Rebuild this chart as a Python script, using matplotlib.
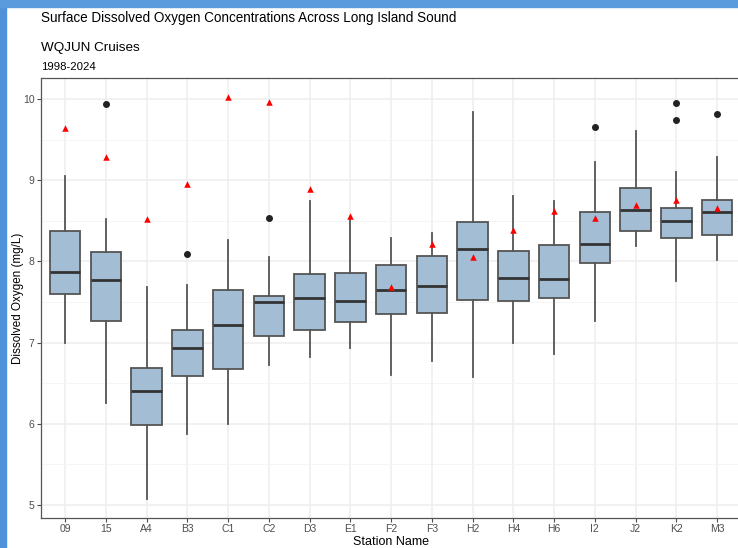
import matplotlib
matplotlib.use('Agg')
from matplotlib import pyplot as plt
from matplotlib.patches import Rectangle
import numpy as np

plt.rcParams['font.family'] = ['Liberation Sans', 'DejaVu Sans']

# station names along the x axis
stations = ['09', '15', 'A4', 'B3', 'C1', 'C2', 'D3', 'E1', 'F2', 'F3',
            'H2', 'H4', 'H6', 'I2', 'J2', 'K2', 'M3']

# box summaries (mg/L)
whisk_lo = [6.99, 6.26, 5.08, 5.88, 6.00, 6.72, 6.82, 6.93, 6.60, 6.78,
            6.58, 7.00, 6.86, 7.27, 8.19, 7.76, 8.02]
q1 = [7.60, 7.27, 5.98, 6.59, 6.68, 7.08, 7.16, 7.25, 7.35, 7.36,
      7.52, 7.51, 7.55, 7.98, 8.38, 8.29, 8.33]
median = [7.87, 7.77, 6.41, 6.94, 7.22, 7.50, 7.55, 7.51, 7.65, 7.70,
          8.15, 7.80, 7.79, 8.22, 8.64, 8.50, 8.61]
q3 = [8.38, 8.12, 6.69, 7.15, 7.65, 7.58, 7.84, 7.86, 7.96, 8.07,
      8.49, 8.13, 8.20, 8.61, 8.91, 8.66, 8.76]
whisk_hi = [9.05, 8.52, 7.68, 7.71, 8.26, 8.05, 8.74, 8.55, 8.29, 8.35,
            9.84, 8.81, 8.74, 9.22, 9.61, 9.10, 9.29]
outliers = [[], [9.94], [], [8.09], [], [8.53], [], [], [], [],
            [], [], [], [9.66], [], [9.95, 9.74], [9.82]]
# red triangles
means = [9.65, 9.29, 8.52, 8.95, 10.02, 9.96, 8.89, 8.56, 7.68, 8.21,
         8.06, 8.39, 8.62, 8.53, 8.70, 8.76, 8.66]

W, H = 738, 548
fig = plt.figure(figsize=(W / 100, H / 100), dpi=100)
fig.patch.set_facecolor('white')

# axes: left 40.7px, right ~741px (cut off), top 78px, bottom 518px
ax = fig.add_axes([40.7 / W, 1 - 518 / H, (741.5 - 40.7) / W, (518 - 78) / H])

pos = np.arange(1, len(stations) + 1)
stats = []
for i in range(len(stations)):
    stats.append(dict(med=median[i], q1=q1[i], q3=q3[i],
                      whislo=whisk_lo[i], whishi=whisk_hi[i],
                      fliers=outliers[i], label=stations[i]))

edge = '#555555'
ax.bxp(stats, positions=pos, widths=0.75, patch_artist=True,
       showcaps=False,
       boxprops=dict(facecolor='#a3bdd4', edgecolor=edge, linewidth=1.3),
       whiskerprops=dict(color=edge, linewidth=1.3),
       medianprops=dict(color='#333333', linewidth=2.0),
       flierprops=dict(marker='o', markerfacecolor='#222222',
                       markeredgecolor='#222222', markersize=4),
       zorder=3)
ax.scatter(pos, means, marker='^', color='red', s=22, zorder=4, linewidths=0)

ax.set_xlim(0.4, 17.6)
ax.set_ylim(4.84, 10.26)
ax.set_yticks([5, 6, 7, 8, 9, 10])
ax.set_yticks([5.5, 6.5, 7.5, 8.5, 9.5], minor=True)
ax.set_xticks(pos)
ax.set_xticklabels(stations)

ax.grid(which='major', color='#eeeeee', linewidth=1.1, zorder=0)
ax.grid(which='minor', axis='y', color='#f4f4f4', linewidth=0.6, zorder=0)
ax.set_axisbelow(True)
for s in ax.spines.values():
    s.set_color('#555555')
    s.set_linewidth(0.9)

ax.tick_params(axis='both', which='major', labelsize=7.5, colors='#4d4d4d',
               length=3, width=0.8)
ax.tick_params(axis='both', which='minor', length=0)
ax.tick_params(axis='x', pad=1.5)
ax.tick_params(axis='y', pad=1.5)

ax.set_xlabel('Station Name', fontsize=9, labelpad=1)
ax.set_ylabel('Dissolved Oxygen (mg/L)', fontsize=8.4)
ax.yaxis.set_label_coords((24.5 - 40.7) / 700.8, 0.5)

fig.text(41 / W, 1 - 18 / H, 'Surface Dissolved Oxygen Concentrations Across Long Island Sound',
         fontsize=9.75, va='center', ha='left')
fig.text(41 / W, 1 - 48 / H, 'WQJUN Cruises', fontsize=9.7, va='center', ha='left')
fig.text(41 / W, 1 - 67 / H, '1998-2024', fontsize=8.2, va='center', ha='left')

# blue window frame at left and top of the screenshot
fig.patches.append(Rectangle((0, 0), 6 / W, 1, transform=fig.transFigure,
                             color='#4f92da', zorder=10))
fig.patches.append(Rectangle((0, 1 - 7 / H), 1, 7 / H, transform=fig.transFigure,
                             color='#5a9bdd', zorder=10))

fig.savefig('out.png', dpi=100)
